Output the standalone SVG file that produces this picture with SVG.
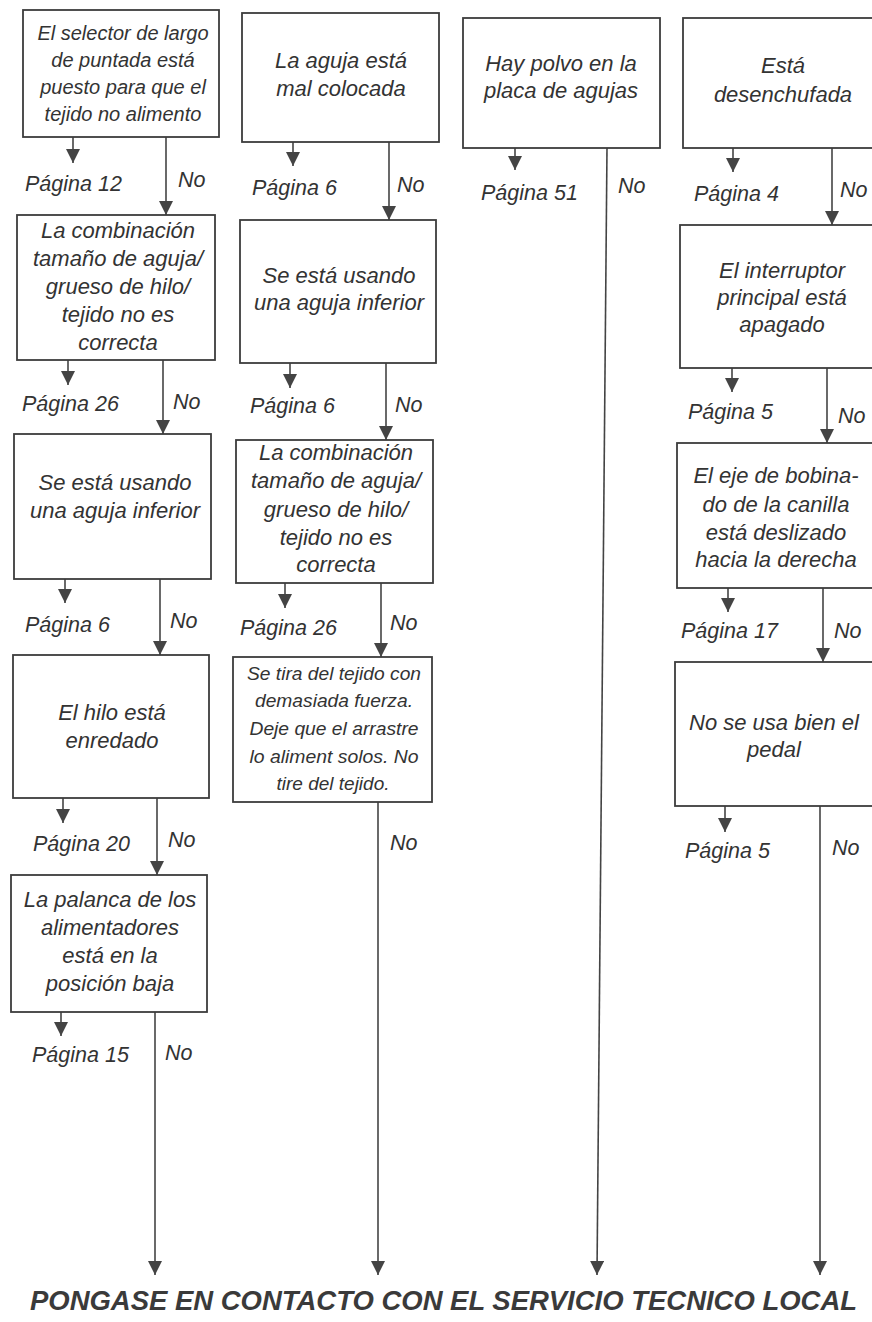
<svg xmlns="http://www.w3.org/2000/svg" width="872" height="1322" viewBox="0 0 872 1322">
<style>
.box{fill:#fff;stroke:#3c3c3c;stroke-width:1.8}
.t{font-family:"Liberation Sans",Arial,sans-serif;font-style:italic;font-size:22px;fill:#333;text-anchor:middle}
.t1{font-size:20px}
.tc{font-size:18px}
.lbl{font-family:"Liberation Sans",Arial,sans-serif;font-style:italic;font-size:21.5px;fill:#333}
.ln{stroke:#444;stroke-width:1.6;fill:none;marker-end:url(#ah)}
.title{font-family:"Liberation Sans",Arial,sans-serif;font-style:italic;font-weight:bold;font-size:27.5px;fill:#3a3a3a}
</style>
<defs>
<marker id="ah" viewBox="0 0 14 14" refX="14" refY="7" markerWidth="14" markerHeight="14" markerUnits="userSpaceOnUse" orient="auto">
<path d="M0,0 L14,7 L0,14 z" fill="#444"/>
</marker>
</defs>
<rect width="872" height="1322" fill="#fff"/>

<g id="connectors">
<!-- column 1 -->
<line class="ln" x1="73" y1="137" x2="73" y2="163"/>
<line class="ln" x1="166" y1="137" x2="166" y2="215"/>
<line class="ln" x1="68" y1="360" x2="68" y2="385"/>
<line class="ln" x1="163" y1="360" x2="163" y2="434"/>
<line class="ln" x1="65" y1="579" x2="65" y2="603"/>
<line class="ln" x1="160" y1="579" x2="160" y2="655"/>
<line class="ln" x1="63" y1="798" x2="63" y2="823"/>
<line class="ln" x1="157" y1="798" x2="157" y2="875"/>
<line class="ln" x1="61" y1="1012" x2="61" y2="1036"/>
<line class="ln" x1="155" y1="1012" x2="155" y2="1275"/>
<!-- column 2 -->
<line class="ln" x1="293" y1="142" x2="293" y2="166"/>
<line class="ln" x1="389" y1="142" x2="389" y2="220"/>
<line class="ln" x1="290" y1="363" x2="290" y2="388"/>
<line class="ln" x1="386" y1="363" x2="386" y2="440"/>
<line class="ln" x1="285" y1="583" x2="285" y2="608"/>
<line class="ln" x1="381" y1="583" x2="381" y2="657"/>
<line class="ln" x1="378" y1="802" x2="378" y2="1275"/>
<!-- column 3 -->
<line class="ln" x1="515" y1="148" x2="515" y2="170"/>
<line class="ln" x1="607" y1="148" x2="597" y2="1275"/>
<!-- column 4 -->
<line class="ln" x1="733" y1="148" x2="733" y2="172"/>
<line class="ln" x1="832" y1="148" x2="832" y2="225"/>
<line class="ln" x1="732" y1="368" x2="732" y2="392"/>
<line class="ln" x1="827" y1="368" x2="827" y2="443"/>
<line class="ln" x1="728" y1="588" x2="728" y2="612"/>
<line class="ln" x1="823" y1="588" x2="823" y2="662"/>
<line class="ln" x1="725" y1="806" x2="725" y2="832"/>
<line class="ln" x1="820" y1="806" x2="820" y2="1275"/>
</g>

<g id="labels">
<text class="lbl" x="25" y="191">Página 12</text><text class="lbl" x="178" y="187">No</text>
<text class="lbl" x="22" y="411">Página 26</text><text class="lbl" x="173" y="409">No</text>
<text class="lbl" x="25" y="632">Página 6</text><text class="lbl" x="170" y="628">No</text>
<text class="lbl" x="33" y="851">Página 20</text><text class="lbl" x="168" y="847">No</text>
<text class="lbl" x="32" y="1062">Página 15</text><text class="lbl" x="165" y="1060">No</text>

<text class="lbl" x="252" y="195">Página 6</text><text class="lbl" x="397" y="192">No</text>
<text class="lbl" x="250" y="413">Página 6</text><text class="lbl" x="395" y="412">No</text>
<text class="lbl" x="240" y="635">Página 26</text><text class="lbl" x="390" y="630">No</text>
<text class="lbl" x="390" y="850">No</text>

<text class="lbl" x="481" y="200">Página 51</text><text class="lbl" x="618" y="193">No</text>

<text class="lbl" x="694" y="201">Página 4</text><text class="lbl" x="840" y="197">No</text>
<text class="lbl" x="688" y="419">Página 5</text><text class="lbl" x="838" y="423">No</text>
<text class="lbl" x="681" y="638">Página 17</text><text class="lbl" x="834" y="638">No</text>
<text class="lbl" x="685" y="858">Página 5</text><text class="lbl" x="832" y="855">No</text>
</g>

<g id="n1">
<rect class="box" x="23" y="10" width="196" height="127"/>
<text class="t t1" x="123" y="40">El selector de largo</text>
<text class="t t1" x="123" y="67">de puntada está</text>
<text class="t t1" x="123" y="94">puesto para que el</text>
<text class="t t1" x="123" y="121">tejido no alimento</text>
</g>
<g id="n2">
<rect class="box" x="17" y="215" width="198" height="145"/>
<text class="t" x="118" y="238">La combinación</text>
<text class="t" x="118" y="266">tamaño de aguja/</text>
<text class="t" x="118" y="294">grueso de hilo/</text>
<text class="t" x="118" y="322">tejido no es</text>
<text class="t" x="118" y="350">correcta</text>
</g>
<g id="n3">
<rect class="box" x="14" y="434" width="197" height="145"/>
<text class="t" x="115" y="490">Se está usando</text>
<text class="t" x="115" y="518">una aguja inferior</text>
</g>
<g id="n4">
<rect class="box" x="13" y="655" width="196" height="143"/>
<text class="t" x="112" y="720">El hilo está</text>
<text class="t" x="112" y="748">enredado</text>
</g>
<g id="n5">
<rect class="box" x="11" y="875" width="196" height="137"/>
<text class="t" x="110" y="907">La palanca de los</text>
<text class="t" x="110" y="935">alimentadores</text>
<text class="t" x="110" y="963">está en la</text>
<text class="t" x="110" y="991">posición baja</text>
</g>

<g id="n6">
<rect class="box" x="242" y="13" width="197" height="129"/>
<text class="t" x="341" y="68">La aguja está</text>
<text class="t" x="341" y="96">mal colocada</text>
</g>
<g id="n7">
<rect class="box" x="240" y="220" width="196" height="143"/>
<text class="t" x="339" y="283">Se está usando</text>
<text class="t" x="339" y="310">una aguja inferior</text>
</g>
<g id="n8">
<rect class="box" x="236" y="440" width="197" height="143"/>
<text class="t" x="336" y="460">La combinación</text>
<text class="t" x="336" y="488">tamaño de aguja/</text>
<text class="t" x="336" y="517">grueso de hilo/</text>
<text class="t" x="336" y="545">tejido no es</text>
<text class="t" x="336" y="572">correcta</text>
</g>
<g id="n9">
<rect class="box" x="233" y="657" width="199" height="145"/>
<text class="t tc" x="334" y="680" textLength="174" lengthAdjust="spacingAndGlyphs">Se tira del tejido con</text>
<text class="t tc" x="334" y="707" textLength="158" lengthAdjust="spacingAndGlyphs">demasiada fuerza.</text>
<text class="t tc" x="334" y="735" textLength="169" lengthAdjust="spacingAndGlyphs">Deje que el arrastre</text>
<text class="t tc" x="334" y="763" textLength="169" lengthAdjust="spacingAndGlyphs">lo aliment solos. No</text>
<text class="t tc" x="333" y="790" textLength="113" lengthAdjust="spacingAndGlyphs">tire del tejido.</text>
</g>

<g id="n10">
<rect class="box" x="463" y="18" width="197" height="130"/>
<text class="t" x="561" y="71">Hay polvo en la</text>
<text class="t" x="561" y="98">placa de agujas</text>
</g>

<g id="n11">
<rect class="box" x="683" y="18" width="205" height="130"/>
<text class="t" x="783" y="73">Está</text>
<text class="t" x="783" y="102">desenchufada</text>
</g>
<g id="n12">
<rect class="box" x="680" y="225" width="205" height="143"/>
<text class="t" x="782" y="278">El interruptor</text>
<text class="t" x="782" y="305">principal está</text>
<text class="t" x="782" y="332">apagado</text>
</g>
<g id="n13">
<rect class="box" x="677" y="443" width="205" height="145"/>
<text class="t" x="776" y="483">El eje de bobina-</text>
<text class="t" x="776" y="512">do de la canilla</text>
<text class="t" x="776" y="540">está deslizado</text>
<text class="t" x="776" y="567">hacia la derecha</text>
</g>
<g id="n14">
<rect class="box" x="675" y="662" width="205" height="144"/>
<text class="t" x="774" y="730">No se usa bien el</text>
<text class="t" x="774" y="757">pedal</text>
</g>

<g id="footer">
<text class="title" x="30" y="1310" textLength="827" lengthAdjust="spacingAndGlyphs">PONGASE EN CONTACTO CON EL SERVICIO TECNICO LOCAL</text>
</g>
</svg>
